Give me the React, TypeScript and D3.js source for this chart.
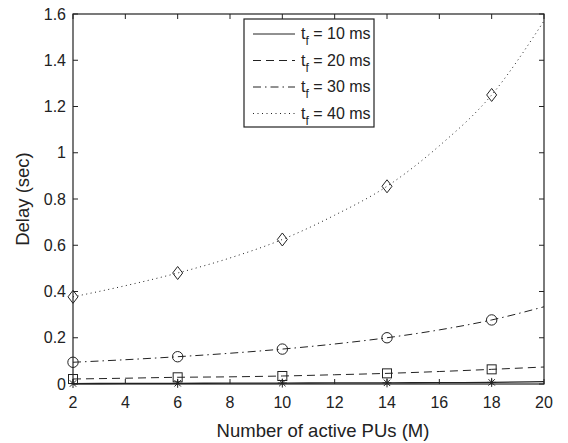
import React from "react";
import * as d3 from "d3";

const M = [2, 4, 6, 8, 10, 12, 14, 16, 18, 20];
const tf10 = [0.002, 0.0025, 0.003, 0.0035, 0.004, 0.0045, 0.005, 0.006, 0.007, 0.01];
const tf20 = [0.0216, 0.025, 0.029, 0.031, 0.0346, 0.04, 0.046, 0.054, 0.0634, 0.0735];
const tf30 = [0.094, 0.105, 0.118, 0.133, 0.151, 0.173, 0.2, 0.234, 0.277, 0.334];
const tf40 = [0.377, 0.425, 0.48, 0.545, 0.625, 0.73, 0.855, 1.03, 1.25, 1.57];
const markerM = [2, 6, 10, 14, 18];
const xTicks = [2, 4, 6, 8, 10, 12, 14, 16, 18, 20];
const yTicks = [0, 0.2, 0.4, 0.6, 0.8, 1, 1.2, 1.4, 1.6];
const labels = ["10", "20", "30", "40"];
const dashes = ["none", "8,5", "8,4,1.5,4", "1,3.5"];
const markers = ["star", "square", "circle", "diamond"];
const seriesList = [tf10, tf20, tf30, tf40];

const W = 568, H = 443;
const L = 73, R = 544, T = 14, B = 384;
const font = "'Liberation Sans', Arial, sans-serif";
const ink = "#222";

function Marker({ type, x, y }: { type: string; x: number; y: number }) {
  const st = { fill: "none", stroke: ink, strokeWidth: 1 };
  if (type === "circle") return <circle cx={x} cy={y} r={5.2} {...st} />;
  if (type === "square") return <rect x={x - 4.5} y={y - 4.5} width={9} height={9} {...st} />;
  if (type === "diamond")
    return <path d={`M${x},${y - 6.5}L${x + 5},${y}L${x},${y + 6.5}L${x - 5},${y}Z`} {...st} />;
  const s = 4.5, d = 3.2;
  return (
    <path
      d={`M${x - s},${y}L${x + s},${y}M${x},${y - s}L${x},${y + s}M${x - d},${y - d}L${x + d},${y + d}M${x - d},${y + d}L${x + d},${y - d}`}
      {...st}
    />
  );
}

export default function App() {
  const x = d3.scaleLinear().domain([2, 20]).range([L, R]);
  const y = d3.scaleLinear().domain([0, 1.6]).range([B, T]);
  const line = d3
    .line<number>()
    .x((_, i) => x(M[i]))
    .y((d) => y(d))
    .curve(d3.curveMonotoneX);
  const tl = 5;
  const lgTop = 19, lgStep = 26.5;
  return (
    <svg width={W} height={H} style={{ position: "absolute", left: 0, top: 0 }}>
      <rect width={W} height={H} fill="#fff" />
      {seriesList.map((s, k) => (
        <path
          key={k}
          d={line(s) || ""}
          fill="none"
          stroke={ink}
          strokeWidth={k === 0 ? 1.3 : 1}
          strokeDasharray={dashes[k]}
        />
      ))}
      {seriesList.map((s, k) =>
        markerM.map((m) => (
          <Marker key={k + "-" + m} type={markers[k]} x={x(m)} y={y(s[M.indexOf(m)])} />
        ))
      )}
      <rect x={L} y={T} width={R - L} height={B - T} fill="none" stroke={ink} strokeWidth={1.2} />
      {xTicks.map((t) => (
        <g key={"x" + t}>
          <line x1={x(t)} x2={x(t)} y1={B} y2={B - tl} stroke={ink} />
          <line x1={x(t)} x2={x(t)} y1={T} y2={T + tl} stroke={ink} />
          <text x={x(t)} y={B + 24} textAnchor="middle" fontFamily={font} fontSize={16} fill={ink}>
            {t}
          </text>
        </g>
      ))}
      {yTicks.map((t) => (
        <g key={"y" + t}>
          <line x1={L} x2={L + tl} y1={y(t)} y2={y(t)} stroke={ink} />
          <line x1={R} x2={R - tl} y1={y(t)} y2={y(t)} stroke={ink} />
          <text x={L - 7} y={y(t) + 5.5} textAnchor="end" fontFamily={font} fontSize={16} fill={ink}>
            {t}
          </text>
        </g>
      ))}
      <text x={323} y={B + 53} textAnchor="middle" fontFamily={font} fontSize={18.5} fill={ink}>
        Number of active PUs (M)
      </text>
      <text
        transform={`translate(${29},${(T + B) / 2}) rotate(-90)`}
        textAnchor="middle"
        fontFamily={font}
        fontSize={18.5}
        fill={ink}
      >
        Delay (sec)
      </text>
      <rect x={244} y={lgTop} width={130} height={108} fill="#fff" stroke={ink} strokeWidth={1.2} />
      {labels.map((lab, k) => {
        const ly = 34 + k * lgStep;
        return (
          <g key={"lg" + k}>
            <line x1={253} x2={295} y1={ly} y2={ly} stroke={ink} strokeDasharray={dashes[k]} />
            <text x={301} y={ly + 5} fontFamily={font} fontSize={16} fill={ink}>
              t
              <tspan fontSize={12} dy={6}>f</tspan>
              <tspan dy={-6}> = {lab} ms</tspan>
            </text>
          </g>
        );
      })}
    </svg>
  );
}
